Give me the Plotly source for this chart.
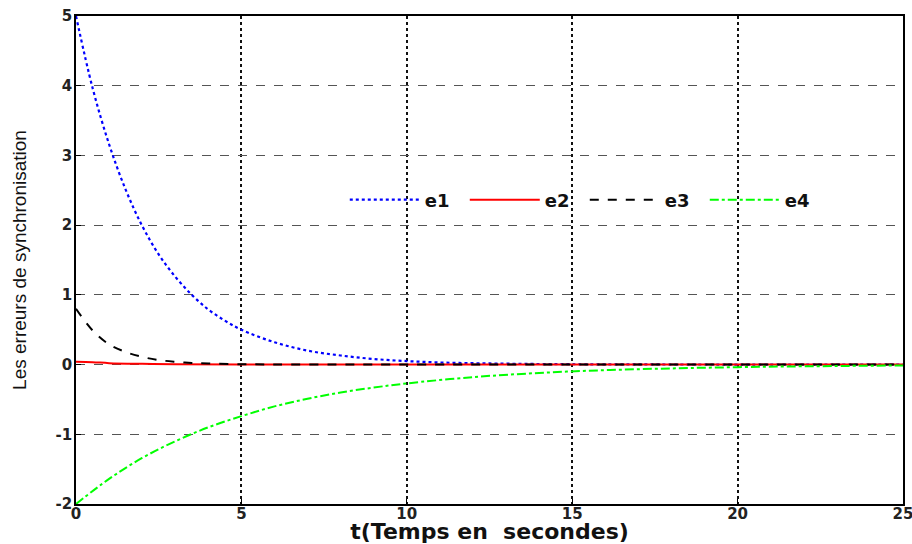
import plotly.graph_objects as go

t_e1 = [0, 0.5, 1, 1.5, 2, 2.5, 3, 3.5, 4, 4.5, 5, 6, 7, 8, 9, 10, 11, 12, 13, 14, 15, 17, 20, 25]
e1 = [5.00, 3.97, 3.16, 2.51, 1.99, 1.58, 1.26, 1.00, 0.79, 0.63, 0.50, 0.32, 0.20, 0.13, 0.08,
      0.05, 0.03, 0.02, 0.013, 0.008, 0.005, 0.002, 0.0005, 0.0]

t_e2 = [0, 0.5, 1, 2, 3, 5, 10, 15, 20, 25]
e2 = [0.04, 0.035, 0.02, 0.01, 0.005, 0.0, 0.0, 0.0, 0.0, 0.0]

t_e3 = [0, 0.5, 1, 1.5, 2, 2.5, 3, 3.5, 4, 5, 6, 8, 10, 15, 20, 25]
e3 = [0.80, 0.49, 0.29, 0.18, 0.11, 0.065, 0.04, 0.024, 0.015, 0.005, 0.002, 0.0, 0.0, 0.0, 0.0, 0.0]

t_e4 = [0, 1, 2, 3, 4, 5, 6, 7, 8, 9, 10, 12, 14, 16, 18, 20, 22, 25]
e4 = [-2.00, -1.64, -1.34, -1.10, -0.90, -0.74, -0.60, -0.49, -0.40, -0.33, -0.27, -0.18,
      -0.12, -0.08, -0.055, -0.037, -0.025, -0.013]

x_ticks = [0, 5, 10, 15, 20, 25]
y_ticks = [-2, -1, 0, 1, 2, 3, 4, 5]

fig = go.Figure()
fig.add_trace(go.Scatter(x=t_e1, y=e1, name="e1", mode="lines", line=dict(color="#0000FF", width=2.2, dash="dot", shape="spline")))
fig.add_trace(go.Scatter(x=t_e2, y=e2, name="e2", mode="lines", line=dict(color="#FF0000", width=2, shape="spline")))
fig.add_trace(go.Scatter(x=t_e3, y=e3, name="e3", mode="lines", line=dict(color="#000000", width=2, dash="dash", shape="spline")))
fig.add_trace(go.Scatter(x=t_e4, y=e4, name="e4", mode="lines", line=dict(color="#00FF00", width=2, dash="dashdot", shape="spline")))

wide = "DejaVu Sans, Verdana, sans-serif"
tickfont = dict(size=15, family=wide, color="#222", weight="bold")

fig.update_layout(
    width=912, height=544,
    margin=dict(l=76, r=9, t=16, b=40, autoexpand=False),
    paper_bgcolor="white", plot_bgcolor="white",
    font=dict(family=wide, color="#111111"),
    showlegend=True,
    legend=dict(orientation="h", x=0.325, y=0.623, xanchor="left", yanchor="middle",
                bgcolor="rgba(0,0,0,0)",
                font=dict(size=18, family=wide, color="#111", weight="bold"),
                itemwidth=70, entrywidth=35, traceorder="normal"),
    xaxis=dict(range=[0, 25], tickvals=x_ticks, ticktext=[str(v) for v in x_ticks],
               automargin=False, ticklabeloverflow="allow",
               showgrid=True, gridcolor="#111", griddash="dot", gridwidth=1.5,
               showline=True, linecolor="black", linewidth=1.5, mirror=True,
               ticks="inside", ticklen=5, tickcolor="black", zeroline=False,
               tickfont=tickfont, ticklabelstandoff=-5,
               title=dict(text="t(Temps en  secondes)", standoff=3,
                          font=dict(size=22, family=wide, color="#111", weight="bold"))),
    yaxis=dict(range=[-2, 5], tickvals=y_ticks, ticktext=[str(v) for v in y_ticks],
               automargin=False, ticklabeloverflow="allow",
               showgrid=True, gridcolor="#555", griddash="dash", gridwidth=1,
               showline=True, linecolor="black", linewidth=1.5, mirror=True,
               ticks="inside", ticklen=5, tickcolor="black", zeroline=False,
               tickfont=tickfont, ticklabelstandoff=-1,
               title=dict(text="Les erreurs de synchronisation", standoff=24,
                          font=dict(size=19, family="Liberation Sans Narrow, Arial Narrow, sans-serif", color="#111"))),
)

fig.write_html("out.html", post_script="document.body.style.margin='0';",
               config={"displayModeBar": False})
